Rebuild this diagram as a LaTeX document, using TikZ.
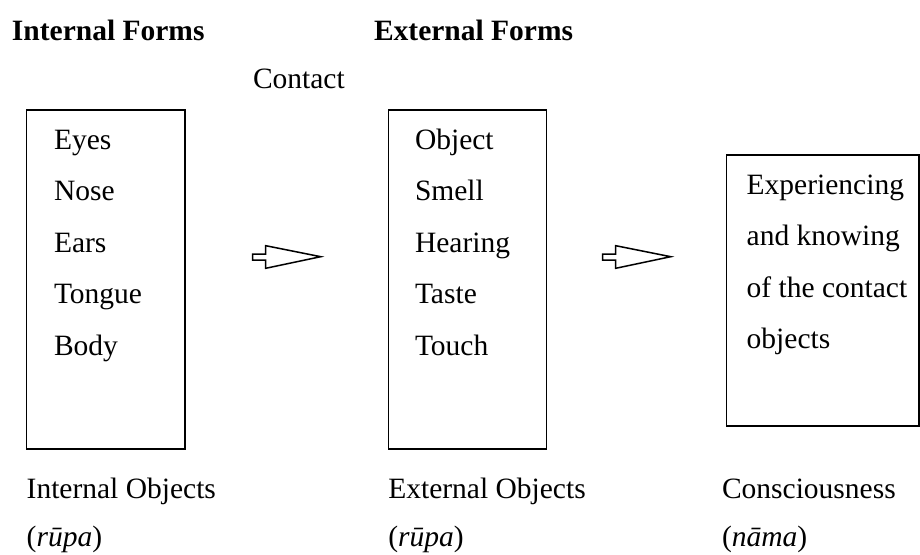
\documentclass[tikz,border=0pt]{standalone}
\usepackage{fontspec}
\setmainfont{Liberation Serif}
\begin{document}
\begin{tikzpicture}[x=1pt,y=-1pt,
  txt/.style={anchor=base west,inner sep=0pt,outer sep=0pt,font=\fontsize{29.5}{35}\selectfont},
  head/.style={txt,font=\fontsize{29.5}{35}\selectfont\bfseries},
  frame/.style={draw,line width=1.2pt},
  blockarrow/.style={draw,line width=1.5pt,line join=miter}]
\useasboundingbox (0,0) rectangle (920,554);
% headings
\node[head] (h1) at (12,40) {Internal Forms};
\node[head] (h2) at (374,40) {External Forms};
\node[txt] (contact) at (253,88) {Contact};
% boxes
\draw[frame] (26.7,110) rectangle (185,449);
\draw[frame] (388.3,110) rectangle (546.7,449);
\draw[frame] (726.7,155) rectangle (919,426);
% box 1 text
\node[txt] (e1) at (54,149) {Eyes};
\node[txt] (e2) at (54,200.5) {Nose};
\node[txt] (e3) at (54,252) {Ears};
\node[txt] (e4) at (54,303.5) {Tongue};
\node[txt] (e5) at (54,355) {Body};
% box 2 text
\node[txt] (o1) at (415,149) {Object};
\node[txt] (o2) at (415,200.5) {Smell};
\node[txt] (o3) at (415,252) {Hearing};
\node[txt] (o4) at (415,303.5) {Taste};
\node[txt] (o5) at (415,355) {Touch};
% box 3 text
\node[txt] (c1) at (746.7,194) {Experiencing};
\node[txt] (c2) at (746.7,245.5) {and knowing};
\node[txt] (c3) at (746.7,297) {of the contact};
\node[txt] (c4) at (746.7,348.5) {objects};
% block arrows
\foreach \x in {252.7,602.7}{
  \draw[blockarrow] (\x,254) -- ++(13,0) -- ++(0,-8.3) -- ++(55,11) -- ++(-55,11.6) -- ++(0,-8.3) -- ++(-13,0) -- cycle;
}
% bottom labels
\node[txt] (l1) at (26.7,498) {Internal Objects};
\node[txt] (l2) at (388.3,498) {External Objects};
\node[txt] (l3) at (722,498) {Consciousness};
\node[txt] (p1) at (26.7,546) {(\textit{rūpa})};
\node[txt] (p2) at (388.3,546) {(\textit{rūpa})};
\node[txt] (p3) at (722,546) {(\textit{nāma})};
\end{tikzpicture}
\end{document}
